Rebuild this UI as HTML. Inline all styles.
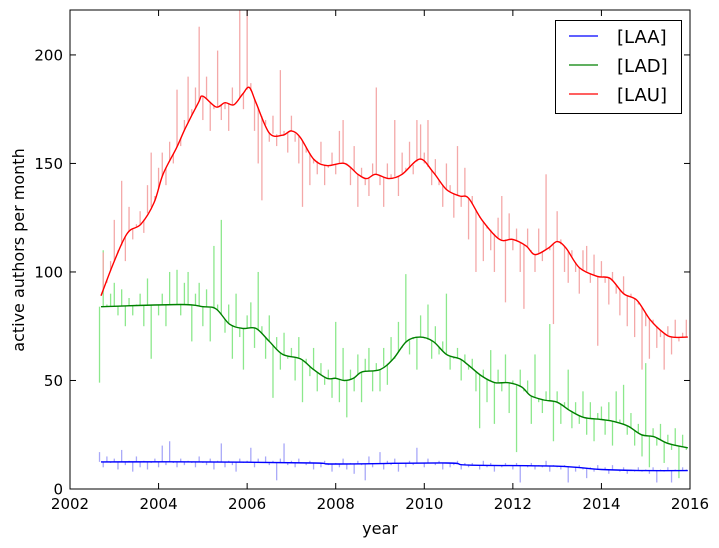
<!DOCTYPE html>
<html><head><meta charset="utf-8"><style>
body{margin:0;background:#fff;}
svg{display:block;font-family:"DejaVu Sans","Liberation Sans",sans-serif;}
</style></head><body>
<svg id="chart" width="719" height="548" viewBox="0 0 719 548">
<defs><clipPath id="clip"><rect x="70" y="10" width="620" height="479"/></clipPath></defs>
<g id="raw" clip-path="url(#clip)"></g>
<g id="smooth" clip-path="url(#clip)"></g>
<rect x="70" y="10" width="620" height="479" fill="none" stroke="#000" stroke-width="1"/>
<g id="axes"></g>
<text x="380" y="534" font-size="16" text-anchor="middle">year</text>
<text x="24" y="250" font-size="16" text-anchor="middle" transform="rotate(-90 24 250)">active authors per month</text>
<g>
<rect x="555.5" y="20.5" width="126" height="93" fill="#fff" stroke="#000" stroke-width="1"/>
<line x1="569" y1="36" x2="598" y2="36" stroke="#0000ff" stroke-width="1.3"/>
<text x="617" y="43" font-size="18">[LAA]</text>
<line x1="569" y1="65" x2="598" y2="65" stroke="#008000" stroke-width="1.3"/>
<text x="617" y="72" font-size="18">[LAD]</text>
<line x1="569" y1="94" x2="598" y2="94" stroke="#ff0000" stroke-width="1.3"/>
<text x="617" y="101" font-size="18">[LAU]</text>
</g>
</svg>
<script>
const xTicks=[2002,2004,2006,2008,2010,2012,2014,2016];
const yTicks=[0,50,100,150,200];
const startMonth=[2002,9];
const rawLAU=[89,109,95,105,
124,110,142,105,130,115,122,128,118,140,155,135,
148,155,140,160,150,184,158,170,190,175,185,213,
170,190,165,175,202,170,175,165,185,178,221,175,
221,187,165,150,133,170,160,172,158,193,165,155,
172,160,150,130,155,140,150,145,160,140,148,155,
145,165,170,150,140,158,130,148,140,135,150,185,
140,130,150,145,170,135,155,148,160,145,170,168,
155,170,140,152,140,130,150,140,125,158,130,148,
115,135,100,125,105,120,110,100,125,135,86,127,
110,120,100,83,120,110,100,120,105,145,110,76,
128,115,100,95,110,100,90,110,112,95,108,66,
105,95,85,100,90,80,98,75,90,70,85,55,
75,60,78,65,70,55,75,62,78,68,72,78];
const rawLAD=[49,110,85,90,
95,80,92,75,88,80,85,90,75,97,60,85,
80,90,75,100,85,101,80,95,100,68,90,95,
75,92,68,112,85,124,72,85,60,90,70,55,
80,86,65,100,75,60,80,42,70,55,72,60,
65,50,70,40,60,52,65,45,58,48,55,42,
77,40,65,33,55,45,62,40,60,65,45,58,
45,65,48,70,60,77,65,99,62,70,55,80,
70,85,60,75,62,68,90,55,60,65,50,62,
55,60,45,28,55,40,64,30,55,45,62,35,
50,17,55,45,50,30,62,40,35,45,76,22,
45,30,40,55,28,40,30,45,25,40,22,35,
38,25,40,20,45,32,48,25,35,20,30,15,
58,10,28,20,30,12,25,18,28,5,25,18];
const rawLAA=[17,10,15,12,
14,9,18,11,13,8,15,10,13,9,12,14,
10,20,11,22,12,10,14,11,13,12,10,15,
12,11,14,9,13,21,10,13,11,8,14,12,
13,19,10,14,12,15,11,13,4,14,21,11,
13,10,14,12,11,13,9,12,10,13,11,8,
12,10,14,9,12,7,13,11,4,15,10,12,
17,9,13,11,14,8,12,10,13,11,19,12,
10,14,12,11,13,9,12,10,11,13,9,12,
10,12,11,9,13,10,12,8,11,10,12,11,
9,12,3,11,10,12,9,11,10,13,8,11,
10,9,11,3,10,8,11,9,5,10,8,11,
9,10,7,11,9,8,10,7,9,8,10,8,
9,7,10,3,9,8,10,3,9,8,10,9];
const smLAUx=[2002.7,2003,2003.3,2003.6,2003.9,2004.1,2004.4,2004.6,2004.9,2005.0,2005.3,2005.5,2005.7,2005.9,2006.05,2006.2,2006.5,2006.8,2007.0,2007.2,2007.5,2007.8,2008.2,2008.5,2008.7,2008.9,2009.2,2009.5,2009.9,2010.2,2010.5,2010.8,2011.0,2011.3,2011.7,2012.0,2012.3,2012.5,2012.8,2013.0,2013.2,2013.5,2013.9,2014.2,2014.5,2014.8,2015.1,2015.4,2015.6,2015.95];
const smLAUy=[89,105,118,122,132,145,157,166,178,181,176,178,177,182,185,178,164,163,165,162,152,149,150,145,143,145,143,145,152,146,138,135,134,124,115,115,112,108,111,114,111,102,98,97,90,87,78,72,70,70];
const smLADx=[2002.7,2004.5,2005.0,2005.3,2005.6,2005.9,2006.2,2006.5,2006.8,2007.2,2007.5,2007.8,2008.0,2008.2,2008.4,2008.6,2009.0,2009.3,2009.6,2009.9,2010.2,2010.5,2010.8,2011.0,2011.3,2011.6,2011.9,2012.2,2012.4,2012.7,2013.0,2013.3,2013.6,2014.0,2014.3,2014.6,2014.9,2015.2,2015.5,2015.95];
const smLADy=[84,85,84,83,76,74,74,68,62,60,55,51,51,50,51,54,55,60,68,70,68,62,60,57,52,49,49,47,43,41,40,36,33,32,31,29,25,24,21,19];
const smLAAx=[2002.7,2005,2007.5,2008,2010.5,2011,2013,2014,2015,2015.95];
const smLAAy=[12.5,12.5,12,11.5,12,11,10.5,9,8.5,8.5];

const NS='http://www.w3.org/2000/svg';
const X0=70,X1=690,Y0=489,Y1=10,XMIN=2002,XMAX=2016,YMIN=0,YMAX=220.7;
function xs(v){return X0+(v-XMIN)/(XMAX-XMIN)*(X1-X0);}
function ys(v){return Y0-(v-YMIN)/(YMAX-YMIN)*(Y0-Y1);}
function mk(tag,attrs,parent){const e=document.createElementNS(NS,tag);for(const k in attrs)e.setAttribute(k,attrs[k]);parent.appendChild(e);return e;}
function interp(xa,ya,t){if(t<=xa[0])return ya[0];for(let i=1;i<xa.length;i++){if(t<=xa[i]){const f=(t-xa[i-1])/(xa[i]-xa[i-1]);return ya[i-1]+f*(ya[i]-ya[i-1]);}}return ya[ya.length-1];}
const axes=document.getElementById('axes');
xTicks.forEach(v=>{
  const x=xs(v);
  const t=mk('line',{x1:x,y1:Y0,x2:x,y2:Y0-6,stroke:'#000'},axes);
  
  const t2=mk('line',{x1:x,y1:Y1,x2:x,y2:Y1+6,stroke:'#000'},axes);
  
  const l=mk('text',{x:x,y:Y0+20,'font-size':15,'text-anchor':'middle'},axes);l.textContent=v;
  
});
yTicks.forEach(v=>{
  const y=ys(v);
  const t=mk('line',{x1:X0,y1:y,x2:X0+6,y2:y,stroke:'#000'},axes);
  
  const t2=mk('line',{x1:X1,y1:y,x2:X1-6,y2:y,stroke:'#000'},axes);
  
  const l=mk('text',{x:X0-7,y:y+5.5,'font-size':15,'text-anchor':'end'},axes);l.textContent=v;
  
});
const rawG=document.getElementById('raw'),smG=document.getElementById('smooth');
const series=[
 {name:'laa',raw:rawLAA,sx:smLAAx,sy:smLAAy,c:'#0000ff',lc:'#a8a8f8'},
 {name:'lad',raw:rawLAD,sx:smLADx,sy:smLADy,c:'#008000',lc:'#8ce88c'},
 {name:'lau',raw:rawLAU,sx:smLAUx,sy:smLAUy,c:'#ff0000',lc:'#f4a8a8'}];
series.forEach(s=>{
  s.raw.forEach((v,i)=>{
    const t=startMonth[0]+(startMonth[1]-1+i)/12;
    const x=xs(t);
    const m=mk('line',{x1:x,y1:ys(interp(s.sx,s.sy,t)),x2:x,y2:ys(v),stroke:s.lc,'stroke-width':1.3},rawG);
    
    
  });
});
function smoothPath(px,py){
  let d='M'+px[0].toFixed(1)+','+py[0].toFixed(1);
  for(let i=0;i<px.length-1;i++){
    const x0=px[Math.max(0,i-1)],y0=py[Math.max(0,i-1)],x1=px[i],y1=py[i],x2=px[i+1],y2=py[i+1];
    const x3=px[Math.min(px.length-1,i+2)],y3=py[Math.min(px.length-1,i+2)];
    const c1x=x1+(x2-x0)/6,c1y=y1+(y2-y0)/6,c2x=x2-(x3-x1)/6,c2y=y2-(y3-y1)/6;
    d+=' C'+c1x.toFixed(1)+','+c1y.toFixed(1)+' '+c2x.toFixed(1)+','+c2y.toFixed(1)+' '+x2.toFixed(1)+','+y2.toFixed(1);
  }
  return d;
}
series.forEach(s=>{
  const p=mk('path',{d:smoothPath(s.sx.map(xs),s.sy.map(ys)),fill:'none',stroke:s.c,'stroke-width':1.4,'stroke-linejoin':'round'},smG);
  
  
});
</script>
</body></html>
